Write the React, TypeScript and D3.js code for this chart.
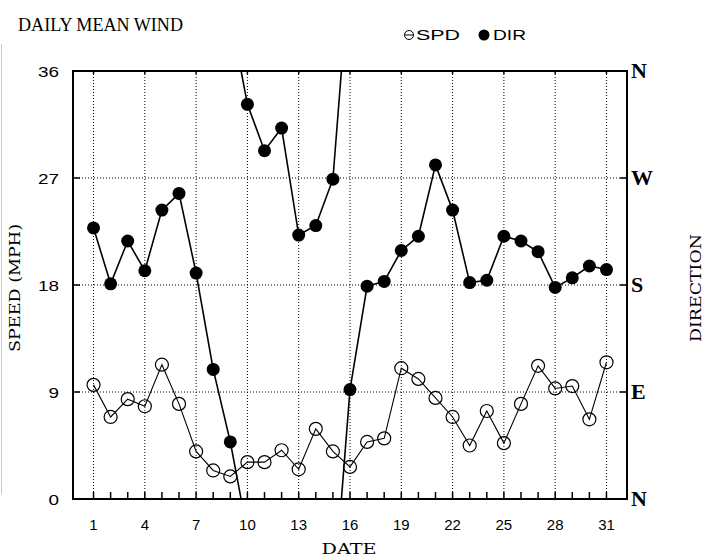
import * as d3 from "d3";

// daily values
const days = d3.range(1, 32);
const speed = [
  9.6, 6.9, 8.4, 7.8, 11.3, 8.0, 4.0, 2.4, 1.9, 3.1, 3.1, 4.1, 2.5, 5.9, 4.0, 2.7,
  4.8, 5.1, 11.0, 10.1, 8.5, 6.9, 4.5, 7.4, 4.7, 8.0, 11.2, 9.3, 9.5, 6.7, 11.5,
];
// direction in tens of degrees (0 = N, 9 = E, 18 = S, 27 = W, 36 = N)
const direction = [
  22.8, 18.1, 21.7, 19.2, 24.3, 25.7, 19.0, 10.9, 4.8, 33.2, 29.3, 31.2, 22.2, 23.0, 26.9, 9.2,
  17.9, 18.3, 20.9, 22.1, 28.1, 24.3, 18.2, 18.4, 22.1, 21.7, 20.8, 17.8, 18.6, 19.6, 19.3,
];
const dateTicks = [1, 4, 7, 10, 13, 16, 19, 22, 25, 28, 31];
const speedTicks = [0, 9, 18, 27, 36];
const compass = ["N", "E", "S", "W", "N"];

const W = 704;
const H = 557;
const X0 = 73;
const X1 = 627;
const Y0 = 71;
const Y1 = 499;

export default function App() {
  const x = d3.scaleLinear().domain([-0.2, 32.2]).range([X0, X1]);
  const y = d3.scaleLinear().domain([0, 36]).range([Y1, Y0]);

  const line = d3
    .line<[number, number]>()
    .x((d) => x(d[0]))
    .y((d) => y(d[1]));

  const spdPts: [number, number][] = days.map((d, i) => [d, speed[i]]);

  // direction wraps through north: split into pieces that run off the top / bottom
  const dirPieces: [number, number][][] = [];
  let cur: [number, number][] = [[days[0], direction[0]]];
  for (let i = 1; i < days.length; i++) {
    const a = direction[i - 1];
    const b = direction[i];
    const diff = b - a;
    if (Math.abs(diff) > 17) {
      const shift = diff > 0 ? -36 : 36;
      cur.push([days[i], b + shift]);
      dirPieces.push(cur);
      cur = [
        [days[i - 1], a - shift],
        [days[i], b],
      ];
    } else {
      cur.push([days[i], b]);
    }
  }
  dirPieces.push(cur);

  const serif = "'DejaVu Serif', 'Liberation Serif', serif";
  const times = "'Liberation Serif', serif";
  const sans = "'Liberation Sans', Arial, sans-serif";

  return (
    <svg
      width={W}
      height={H}
      style={{ position: "absolute", left: 0, top: 0, background: "#fff" }}
    >
      <defs>
        <clipPath id="plot">
          <rect x={X0} y={Y0} width={X1 - X0} height={Y1 - Y0} />
        </clipPath>
      </defs>

      {/* faint edge line at the far left */}
      <line x1={1.5} x2={1.5} y1={44} y2={494} stroke="#c8c8c8" />

      <text
        x={18}
        y={31}
        fontFamily={times}
        fontSize={18}
        fill="#000"
        textLength={165}
        lengthAdjust="spacingAndGlyphs"
      >
        DAILY MEAN WIND
      </text>

      {/* legend */}
      <g fontFamily={sans} fontSize={14} fill="#000">
        <circle cx={409} cy={35} r={4.5} fill="none" stroke="#000" />
        <line x1={404.5} x2={413.5} y1={35} y2={35} stroke="#000" />
        <text x={416} y={40} textLength={44} lengthAdjust="spacingAndGlyphs">
          SPD
        </text>
        <circle cx={484} cy={35} r={5.5} fill="#000" />
        <text x={493} y={40} textLength={33} lengthAdjust="spacingAndGlyphs">
          DIR
        </text>
      </g>

      {/* grid */}
      <g stroke="#000" strokeWidth={1} strokeDasharray="1 2">
        {dateTicks.map((d) => (
          <line key={"gx" + d} x1={x(d)} x2={x(d)} y1={Y0} y2={Y1} />
        ))}
        {speedTicks.slice(1, -1).map((v) => (
          <line key={"gy" + v} x1={X0} x2={X1} y1={y(v)} y2={y(v)} />
        ))}
      </g>

      {/* ticks */}
      <g stroke="#000" strokeWidth={1.5}>
        {days.map((d) => (
          <line key={"tb" + d} x1={x(d)} x2={x(d)} y1={Y1} y2={Y1 - 7} />
        ))}
        {dateTicks.map((d) => (
          <line key={"tt" + d} x1={x(d)} x2={x(d)} y1={Y0} y2={Y0 + 3} />
        ))}
        {speedTicks.slice(1, -1).map((v) => (
          <g key={"ty" + v}>
            <line x1={X0} x2={X0 + 7} y1={y(v)} y2={y(v)} />
            <line x1={X1} x2={X1 - 7} y1={y(v)} y2={y(v)} />
          </g>
        ))}
      </g>

      {/* series */}
      <g clipPath="url(#plot)">
        {dirPieces.map((p, i) => (
          <path key={"dp" + i} d={line(p) || ""} fill="none" stroke="#000" strokeWidth={1.6} />
        ))}
        <path d={line(spdPts) || ""} fill="none" stroke="#000" strokeWidth={1.1} />
        {days.map((d, i) => (
          <circle key={"dc" + d} cx={x(d)} cy={y(direction[i])} r={6.5} fill="#000" />
        ))}
        {days.map((d, i) => (
          <circle
            key={"sc" + d}
            cx={x(d)}
            cy={y(speed[i])}
            r={6.5}
            fill="none"
            stroke="#000"
            strokeWidth={1.2}
          />
        ))}
      </g>

      {/* frame */}
      <rect
        x={X0}
        y={Y0}
        width={X1 - X0}
        height={Y1 - Y0}
        fill="none"
        stroke="#000"
        strokeWidth={2}
      />

      {/* left axis labels */}
      <g fontFamily={sans} fontSize={15} fill="#000" textAnchor="end">
        {speedTicks.map((v) => (
          <text
            key={"ly" + v}
            x={59}
            y={y(v) + 5.5}
            textLength={String(v).length * 10.5}
            lengthAdjust="spacingAndGlyphs"
          >
            {v}
          </text>
        ))}
      </g>

      {/* right compass labels */}
      <g fontFamily={times} fontSize={22} fontWeight="bold" fill="#000">
        {speedTicks.map((v, i) => (
          <text key={"ry" + v} x={631} y={y(v) + 7}>
            {compass[i]}
          </text>
        ))}
      </g>

      {/* bottom labels */}
      <g fontFamily={sans} fontSize={15} fill="#000" textAnchor="middle">
        {dateTicks.map((d) => (
          <text key={"lx" + d} x={x(d)} y={530}>
            {d}
          </text>
        ))}
      </g>

      <text
        x={349}
        y={554}
        fontFamily={serif}
        fontSize={15}
        textAnchor="middle"
        textLength={55}
        lengthAdjust="spacingAndGlyphs"
      >
        DATE
      </text>
      <text
        transform="translate(20,288) rotate(-90)"
        fontFamily={serif}
        fontSize={14}
        textAnchor="middle"
        textLength={128}
        lengthAdjust="spacingAndGlyphs"
      >
        SPEED (MPH)
      </text>
      <text
        transform="translate(701,288) rotate(-90)"
        fontFamily={serif}
        fontSize={14}
        textAnchor="middle"
        textLength={108}
        lengthAdjust="spacingAndGlyphs"
      >
        DIRECTION
      </text>
    </svg>
  );
}
